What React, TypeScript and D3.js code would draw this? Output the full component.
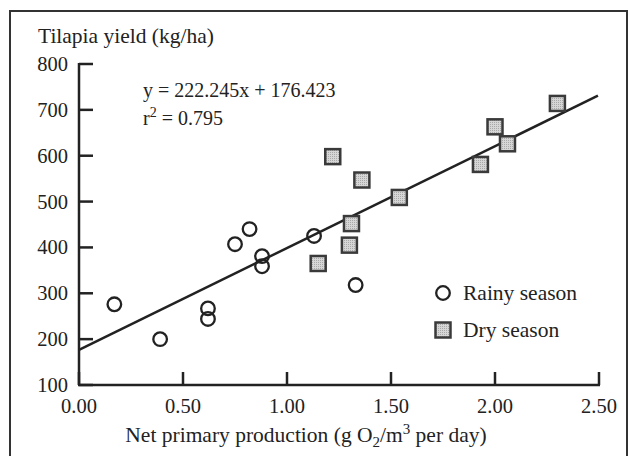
import React from "react";
import * as d3 from "d3";

// Rainy-season observations: net primary production vs tilapia yield
const rainyX = [0.17, 0.39, 0.62, 0.62, 0.75, 0.82, 0.88, 0.88, 1.13, 1.33];
const rainyY = [276, 200, 267, 244, 407, 440, 381, 359, 425, 318];

// Dry-season observations
const dryX = [1.22, 1.36, 1.54, 1.31, 1.93, 2.0, 2.06, 2.3, 1.3, 1.15];
const dryY = [598, 547, 509, 452, 581, 663, 626, 714, 405, 365];

const xTicks = [0, 0.5, 1.0, 1.5, 2.0, 2.5];
const yTicks = [100, 200, 300, 400, 500, 600, 700, 800];

// Fitted regression
const slope = 222.245;
const intercept = 176.423;
const r2 = 0.795;

const W = 629;
const H = 456;
const INK = "#222";
const FONT = "'Liberation Serif', 'DejaVu Serif', serif";

export default function App() {
  const x = d3.scaleLinear().domain([0, 2.5]).range([79, 599]);
  const y = d3.scaleLinear().domain([100, 800]).range([385, 64]);

  const fitLine = d3
    .line<number>()
    .x((v) => x(v))
    .y((v) => y(slope * v + intercept));

  const sq = 15;

  return (
    <svg
      width={W}
      height={H}
      style={{ position: "absolute", left: 0, top: 0, background: "#fff" }}
      fontFamily={FONT}
    >
      <defs>
        <pattern id="dots" width="2" height="2" patternUnits="userSpaceOnUse">
          <rect width="2" height="2" fill="#d6d6d6" />
          <rect width="1" height="1" fill="#a8a8a8" />
        </pattern>
      </defs>

      {/* Frame */}
      <path d={`M10,${H + 2} V11 H627 V${H + 2}`} fill="none" stroke="#333" strokeWidth={2} />

      {/* Axis titles */}
      <text x={38} y={43} fontSize={21.5} fill={INK}>
        Tilapia yield (kg/ha)
      </text>
      <text x={306} y={442} fontSize={21.5} fill={INK} textAnchor="middle">
        Net primary production (g O
        <tspan fontSize={15} dy={5}>2</tspan>
        <tspan dy={-5}>/m</tspan>
        <tspan fontSize={15} dy={-8}>3</tspan>
        <tspan dy={8}> per day)</tspan>
      </text>

      {/* Y axis */}
      <line x1={x(0)} x2={x(0)} y1={y(800) - 1} y2={y(100)} stroke={INK} strokeWidth={2.5} />
      {yTicks.map((t) => (
        <g key={`y${t}`}>
          <line x1={x(0)} x2={x(0) + 14} y1={y(t)} y2={y(t)} stroke={INK} strokeWidth={2.5} />
          <text x={68} y={y(t) + 7} fontSize={20.5} fill={INK} textAnchor="end">
            {t}
          </text>
        </g>
      ))}

      {/* X axis */}
      <line x1={x(0) - 1} x2={x(2.5) + 1} y1={y(100)} y2={y(100)} stroke={INK} strokeWidth={2.5} />
      {xTicks.map((t) => (
        <g key={`x${t}`}>
          <line x1={x(t)} x2={x(t)} y1={y(100)} y2={y(100) - 13} stroke={INK} strokeWidth={2.5} />
          <text x={x(t)} y={413} fontSize={20.5} fill={INK} textAnchor="middle">
            {t.toFixed(2)}
          </text>
        </g>
      ))}

      {/* Regression line */}
      <path d={fitLine([0, 2.495]) || ""} fill="none" stroke={INK} strokeWidth={2.5} />

      {/* Equation */}
      <text x={143} y={97} fontSize={20} fill={INK}>
        y = {slope.toFixed(3)}x + {intercept.toFixed(3)}
      </text>
      <text x={143} y={125} fontSize={20} fill={INK}>
        r<tspan fontSize={14} dy={-8}>2</tspan>
        <tspan dy={8}> = {r2.toFixed(3)}</tspan>
      </text>

      {/* Dry season squares */}
      {dryX.map((v, i) => (
        <rect
          key={`d${i}`}
          x={x(v) - sq / 2}
          y={y(dryY[i]) - sq / 2}
          width={sq}
          height={sq}
          fill="url(#dots)"
          stroke="#3a3a3a"
          strokeWidth={2.5}
        />
      ))}

      {/* Rainy season circles */}
      {rainyX.map((v, i) => (
        <circle
          key={`r${i}`}
          cx={x(v)}
          cy={y(rainyY[i])}
          r={6.8}
          fill="none"
          stroke={INK}
          strokeWidth={2.3}
        />
      ))}

      {/* Legend */}
      <circle cx={443} cy={293} r={6.8} fill="none" stroke={INK} strokeWidth={2.3} />
      <text x={463} y={300} fontSize={21.5} fill={INK}>
        Rainy season
      </text>
      <rect x={443 - sq / 2} y={330 - sq / 2} width={sq} height={sq} fill="url(#dots)" stroke="#3a3a3a" strokeWidth={2.5} />
      <text x={463} y={337} fontSize={21.5} fill={INK}>
        Dry season
      </text>
    </svg>
  );
}
